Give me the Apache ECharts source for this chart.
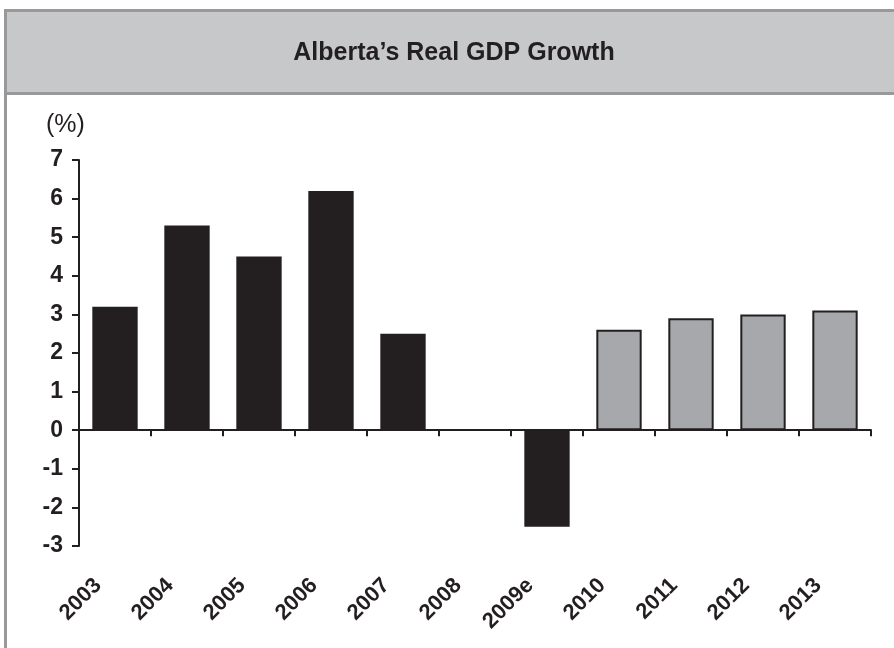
<!DOCTYPE html>
<html>
<head>
<meta charset="utf-8">
<script src="https://cdn.jsdelivr.net/npm/echarts@6/dist/echarts.min.js"></script>
<style>
  html, body { margin: 0; padding: 0; background: #fff; }
  #chart { width: 894px; height: 648px; }
</style>
</head>
<body>
<div id="chart"></div>
<script>
// years on the x axis
const years = ['2003', '2004', '2005', '2006', '2007', '2008', '2009e', '2010', '2011', '2012', '2013'];
// actual / estimated growth (black bars)
const actualGrowth = [3.2, 5.3, 4.5, 6.2, 2.5, 0, -2.5, '-', '-', '-', '-'];
// forecast growth (grey bars)
const forecastGrowth = ['-', '-', '-', '-', '-', '-', '-', 2.6, 2.9, 3.0, 3.1];
const titleText = 'Alberta\u2019s Real GDP Growth';
const unitText = '(%)';

const ink = '#231f20';
const font = 'Liberation Sans, Arial, sans-serif';

const chart = echarts.init(document.getElementById('chart'));

const option = {
  animation: false,
  backgroundColor: '#fff',
  grid: [
    { left: 79, right: 23, top: 160, bottom: 102 },
    // shifted copy, only used for the rotated year labels
    { left: 62, right: 40, top: 160, bottom: 102 }
  ],
  xAxis: [
    {
      type: 'category',
      gridIndex: 0,
      data: years,
      axisLine: { onZero: true, lineStyle: { color: ink, width: 2 } },
      axisTick: { show: true, length: 6, lineStyle: { color: ink, width: 2 } },
      axisLabel: { show: false }
    },
    {
      type: 'category',
      gridIndex: 1,
      data: years,
      axisLine: { show: false, onZero: false },
      axisTick: { show: false },
      axisLabel: {
        rotate: 45,
        margin: 36,
        interval: 0,
        color: ink,
        fontFamily: font,
        fontWeight: 'bold',
        fontSize: 22
      }
    }
  ],
  yAxis: [
    {
      type: 'value',
      gridIndex: 0,
      min: -3,
      max: 7,
      interval: 1,
      axisLine: { show: true, lineStyle: { color: ink, width: 2 } },
      axisTick: { show: true, length: 7, lineStyle: { color: ink, width: 2 } },
      axisLabel: {
        margin: 16,
        color: ink,
        fontFamily: font,
        fontWeight: 'bold',
        fontSize: 23
      },
      splitLine: { show: false }
    },
    {
      type: 'value',
      gridIndex: 1,
      min: -3,
      max: 7,
      show: false
    }
  ],
  series: [
    {
      name: 'Actual',
      type: 'bar',
      stack: 'gdp',
      barCategoryGap: '37%',
      itemStyle: { color: ink },
      data: actualGrowth
    },
    {
      name: 'Forecast',
      type: 'bar',
      stack: 'gdp',
      barCategoryGap: '37%',
      itemStyle: { color: '#a6a8ab', borderColor: ink, borderWidth: 2 },
      data: forecastGrowth
    }
  ],
  graphic: [
    // header band
    { type: 'rect', shape: { x: 4, y: 9, width: 900, height: 86 }, style: { fill: '#c7c8ca' }, z: 0 },
    { type: 'rect', shape: { x: 4, y: 9, width: 900, height: 3 }, style: { fill: '#99999b' }, z: 1 },
    { type: 'rect', shape: { x: 4, y: 92, width: 900, height: 3 }, style: { fill: '#99999b' }, z: 1 },
    { type: 'rect', shape: { x: 4, y: 9, width: 3, height: 650 }, style: { fill: '#99999b' }, z: 1 },
    {
      type: 'text', z: 2,
      style: {
        x: 454, y: 53, text: titleText, fill: ink,
        font: 'bold 25px ' + font, align: 'center', verticalAlign: 'middle'
      }
    },
    {
      type: 'text', left: 46, top: 113, z: 2,
      style: { text: unitText, fill: ink, font: '25px ' + font }
    }
  ]
};

chart.setOption(option);
window.onresize = () => { chart.resize() };
</script>
</body>
</html>
